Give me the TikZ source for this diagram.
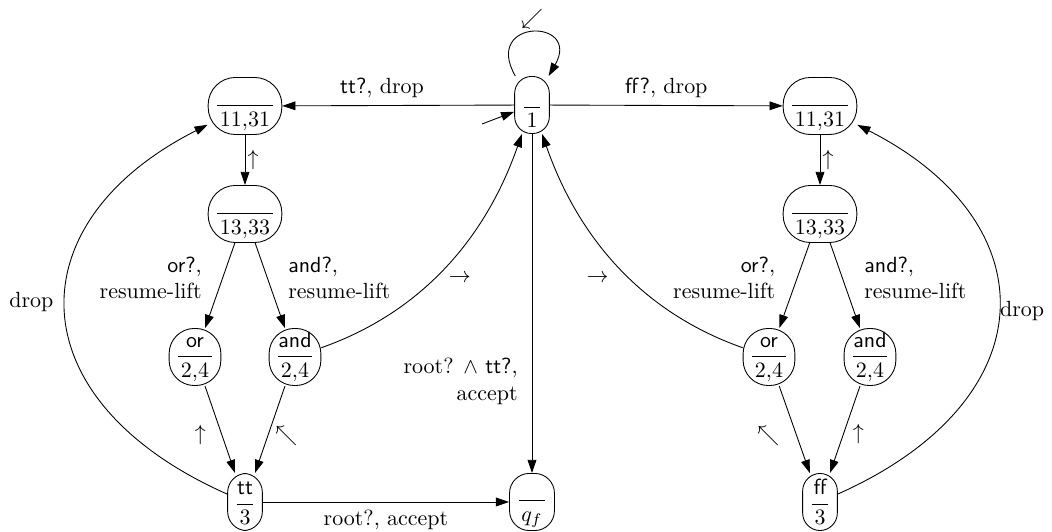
\documentclass[tikz,border=0pt]{standalone}
\usetikzlibrary{arrows.meta}
\newcommand{\stt}[2]{$\displaystyle\frac{\vphantom{\textsf{d}}\textsf{#1}}{\kern1.3pt#2\kern1.3pt}$}
\begin{document}
\begin{tikzpicture}[x=0.016cm,y=-0.016cm,
  st/.style={draw, inner xsep=2.9pt, inner ysep=1pt, minimum height=26pt},
  wide/.style={st, rounded corners=12.5pt},
  rnd/.style={st, rounded corners=11.5pt},
  >={Triangle[length=6pt,width=4pt]}]
\useasboundingbox (0,0) rectangle (1052,532);
% nodes
\node[st, rounded corners=7.7pt] (n1) at (532,105) {\stt{}{1}};
\node[wide] (l11) at (245,106) {\stt{}{11{,}31}};
\node[wide] (l13) at (245,214) {\stt{}{13{,}33}};
\node[rnd] (lor) at (195,357) {\stt{or}{2{,}4}};
\node[rnd] (land) at (295,357) {\stt{and}{2{,}4}};
\node[st, rounded corners=8.6pt] (tt) at (245,502) {\stt{tt}{3}};
\node[st, rounded corners=9pt] (qf) at (532,502) {\stt{}{q_f}};
\node[wide] (r11) at (820,106) {\stt{}{11{,}31}};
\node[wide] (r13) at (820,214) {\stt{}{13{,}33}};
\node[rnd] (ror) at (769,357) {\stt{or}{2{,}4}};
\node[rnd] (rand) at (870,357) {\stt{and}{2{,}4}};
\node[st, rounded corners=8pt] (ff) at (820,502) {\stt{ff}{3}};
\coordinate (init) at (482,124);
% edges
\draw[->] (init) -- (n1);
\draw[->] (n1) .. controls (482,18) and (582,18) .. node[pos=0.5, above, inner sep=1.5pt] {$\swarrow$} (n1);
\draw[->] (n1) -- node[pos=0.57, above] {\textsf{tt?}, drop} (l11);
\draw[->] (n1) -- node[pos=0.5, above] {\textsf{ff?}, drop} (r11);
\draw[->] (n1) -- node[pos=0.73, left=3pt, align=right] {root? $\wedge$ \textsf{tt?},\\accept} (qf);
% left part
\draw[->] (l11) -- node[right, inner sep=1pt] {$\uparrow$} (l13);
\draw[->] (l13) -- node[pos=0.41, left=6pt, align=right] {\textsf{or?},\\resume-lift} (lor);
\draw[->] (l13) -- node[pos=0.41, right=6pt, align=left] {\textsf{and?},\\resume-lift} (land);
\draw[->] (lor) -- node[pos=0.56, left=3.7pt] {$\uparrow$} (tt);
\draw[->] (land) -- node[pos=0.58, right=0pt] {$\nwarrow$} (tt);
\draw[->] (land) .. controls (420,313) and (485,240) .. node[pos=0.45, right=3pt] {$\rightarrow$} (n1);
\draw[->] (tt) .. controls (15,400) and (15,222) .. node[pos=0.52, left=2pt] {drop} (l11);
\draw[->] (tt) -- node[below] {root?, accept} (qf);
% right part
\draw[->] (r11) -- node[right, inner sep=1pt] {$\uparrow$} (r13);
\draw[->] (r13) -- node[pos=0.41, left=6.5pt, align=right] {\textsf{or?},\\resume-lift} (ror);
\draw[->] (r13) -- node[pos=0.41, right=6.5pt, align=left] {\textsf{and?},\\resume-lift} (rand);
\draw[->] (ror) -- node[pos=0.57, left=4.3pt] {$\nwarrow$} (ff);
\draw[->] (rand) -- node[pos=0.55, right=0.7pt] {$\uparrow$} (ff);
\draw[->] (ror) .. controls (644,313) and (579,240) .. node[pos=0.45, left=6pt] {$\rightarrow$} (n1);
\draw[->] (ff) .. controls (1049,400) and (1049,222) .. node[pos=0.5, right, inner sep=0.5pt] {drop} (r11);
\end{tikzpicture}
\end{document}
